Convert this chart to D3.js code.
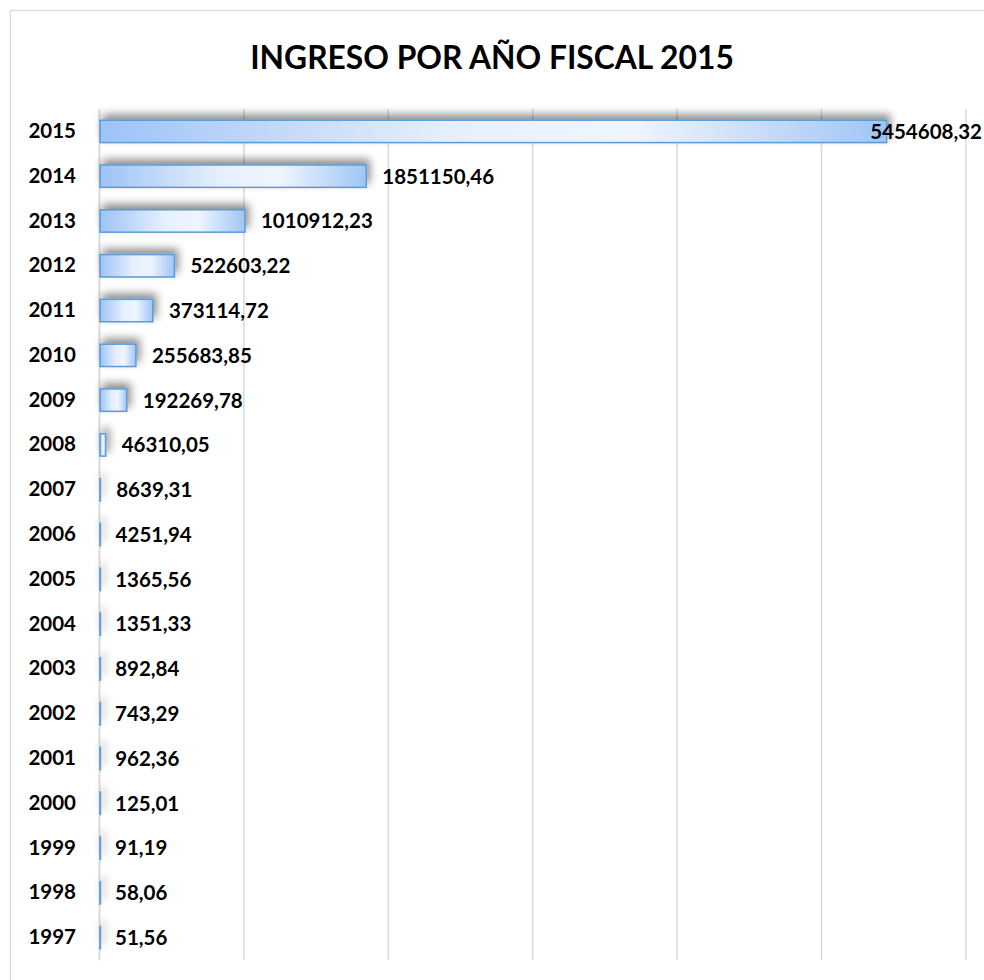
<!DOCTYPE html>
<html>
<head>
<meta charset="utf-8">
<script src="https://cdn.jsdelivr.net/npm/d3@7"></script>
<style>
  body { margin: 0; background: #fff; }
  svg { display: block; font-family: "Lato", "Open Sans", sans-serif; }
</style>
</head>
<body>
<svg id="main-chart-svg" width="984" height="980"></svg>
<script>
// chart data
const titleText = "INGRESO POR AÑO FISCAL 2015";
const years = ["2015", "2014", "2013", "2012", "2011", "2010", "2009", "2008", "2007",
  "2006", "2005", "2004", "2003", "2002", "2001", "2000", "1999", "1998", "1997"];
const values = [5454608.32, 1851150.46, 1010912.23, 522603.22, 373114.72, 255683.85,
  192269.78, 46310.05, 8639.31, 4251.94, 1365.56, 1351.33, 892.84, 743.29, 962.36,
  125.01, 91.19, 58.06, 51.56];
const xTicks = [0, 1000000, 2000000, 3000000, 4000000, 5000000, 6000000];

const svg = d3.select("#main-chart-svg");
const width = +svg.attr("width");
const height = +svg.attr("height");

const plot = { left: 99, right: 965.4, top: 109, bottom: 960 };

// outer chart frame (runs off the right / bottom edge)
svg.append("rect")
  .attr("x", 10.5).attr("y", 10.5)
  .attr("width", width + 40).attr("height", height + 40)
  .attr("fill", "#fff")
  .attr("stroke", "#d9d9d9")
  .attr("stroke-width", 1.2);

// title, fitted to the width it has in the picture
let title = svg.append("text")
  .attr("x", width / 2)
  .attr("y", 69)
  .attr("text-anchor", "middle")
  .attr("font-weight", 700)
  .attr("font-size", 100)
  .attr("fill", "#000")
  .text(titleText);
let tw = title.node().getComputedTextLength();
title.attr("font-size", 100 * 484 / tw);

let defs = svg.append("defs");

let grad = defs.append("linearGradient")
  .attr("id", "barFill")
  .attr("x1", "0%").attr("x2", "100%")
  .attr("y1", "0%").attr("y2", "0%");
grad.append("stop").attr("offset", "0%").attr("stop-color", "#9dc3f7");
grad.append("stop").attr("offset", "45%").attr("stop-color", "#e6f0fd");
grad.append("stop").attr("offset", "68%").attr("stop-color", "#eef5fe");
grad.append("stop").attr("offset", "100%").attr("stop-color", "#9fc5f6");

let shadow = defs.append("filter")
  .attr("id", "barShadow")
  .attr("filterUnits", "userSpaceOnUse")
  .attr("x", 0).attr("y", 0)
  .attr("width", width).attr("height", height);
shadow.append("feGaussianBlur")
  .attr("in", "SourceAlpha")
  .attr("stdDeviation", 4)
  .attr("result", "blur");
shadow.append("feOffset")
  .attr("in", "blur")
  .attr("dx", 3).attr("dy", -5)
  .attr("result", "off");
shadow.append("feFlood")
  .attr("flood-color", "#000")
  .attr("flood-opacity", 0.45);
shadow.append("feComposite")
  .attr("in2", "off")
  .attr("operator", "in")
  .attr("result", "shade");
let merge = shadow.append("feMerge");
merge.append("feMergeNode").attr("in", "shade");
merge.append("feMergeNode").attr("in", "SourceGraphic");

// scales
let xScale = d3.scaleLinear()
  .domain([0, 6000000])
  .range([plot.left, plot.right]);

let yScale = d3.scaleBand()
  .domain(years)
  .range([plot.top, plot.bottom])
  .paddingInner(0.5)
  .paddingOuter(0.25);

// vertical gridlines
let xAxis = d3.axisBottom(xScale)
  .tickValues(xTicks)
  .tickSize(-(plot.bottom - plot.top))
  .tickFormat("");
let gx = svg.append("g")
  .attr("id", "xAxis")
  .attr("transform", `translate(0,${plot.bottom})`)
  .call(xAxis);
gx.select(".domain").remove();
gx.selectAll("line")
  .attr("stroke", "#d9d9d9")
  .attr("stroke-width", 1.5);

// category axis
let yAxis = d3.axisLeft(yScale).tickSize(0).tickPadding(23);
let gy = svg.append("g")
  .attr("id", "yAxis")
  .attr("transform", `translate(${plot.left},0)`)
  .call(yAxis);
gy.select(".domain")
  .attr("stroke", "#d9d9d9")
  .attr("stroke-width", 1.5);
gy.selectAll("text")
  .attr("font-family", "Lato, sans-serif")
  .attr("font-size", 20.5)
  .attr("font-weight", 700)
  .attr("fill", "#000");

const rows = years.map((y, i) => ({ year: y, value: values[i] }));

svg.append("g")
  .selectAll("rect")
  .data(rows)
  .join("rect")
  .attr("x", xScale(0) + 1)
  .attr("y", d => yScale(d.year))
  .attr("width", d => Math.max(0.5, xScale(d.value) - xScale(0) - 1))
  .attr("height", yScale.bandwidth())
  .attr("fill", "url(#barFill)")
  .attr("stroke", "#5b9bd5")
  .attr("stroke-width", 1.5)
  .attr("filter", "url(#barShadow)");

// value labels with comma decimals
let fmt = d3.formatLocale({ decimal: ",", thousands: "", grouping: [3], currency: ["", ""] })
  .format(".2f");

let labels = svg.append("g")
  .selectAll("text")
  .data(rows)
  .join("text")
  .attr("y", d => yScale(d.year) + yScale.bandwidth() / 2)
  .attr("dy", "0.36em")
  .attr("font-size", 20.5)
  .attr("font-weight", 700)
  .attr("fill", "#000")
  .text(d => fmt(d.value));

// keep the labels inside the page, as the 2015 one is pushed onto its bar
labels.attr("x", function(d) {
  let x = xScale(d.value) + 16;
  let w = this.getComputedTextLength();
  if (x + w > width - 2) x = width - 2 - w;
  return x;
});
</script>
</body>
</html>
